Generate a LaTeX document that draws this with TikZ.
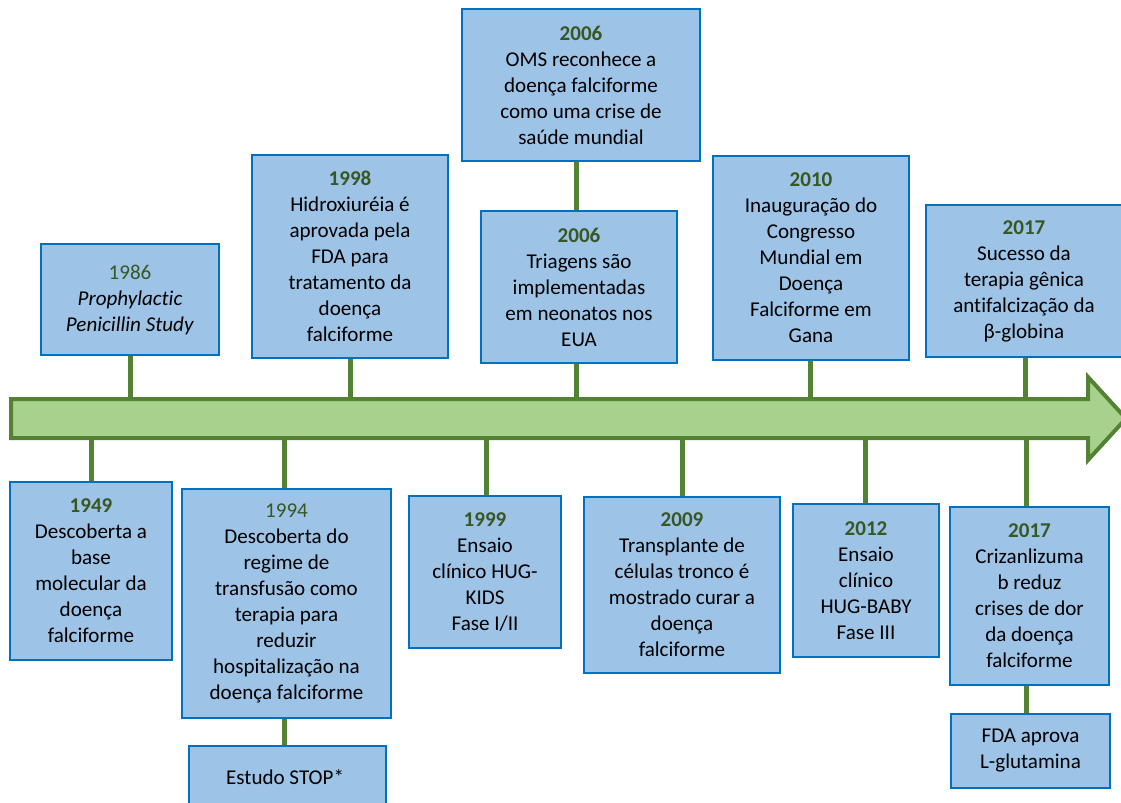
\documentclass[tikz,border=0pt]{standalone}
\usepackage{fontspec}
\setmainfont{Carlito}[Ligatures=NoCommon]
\definecolor{boxblue}{RGB}{157, 195, 230}
\definecolor{edgeblue}{RGB}{0, 112, 192}
\definecolor{axisgreen}{RGB}{169, 209, 142}
\definecolor{darkgreen}{RGB}{84, 130, 53}
\definecolor{yeargreen}{RGB}{56, 87, 35}
\usetikzlibrary{positioning, calc}
\newcommand{\yr}[1]{{\color{yeargreen}\bfseries #1}}
\newcommand{\yrlight}[1]{{\color{yeargreen}#1}}

\begin{document}
\begin{tikzpicture}[
  x=0.75pt, y=-0.75pt,
  evbox/.style={draw=edgeblue, fill=boxblue, line width=1.5pt, align=center, inner sep=2pt,
    font=\fontsize{15.8}{19.5}\selectfont},
  link/.style={draw=darkgreen, line width=3.75pt}
]
  \useasboundingbox (0,0) rectangle (1121,803);
  \clip (0,0) rectangle (1121,803);

  % time axis
  \draw[draw=darkgreen, fill=axisgreen, line width=3pt]
    (11,399) -- (1088,399) -- (1088,377) -- (1126,418.5) -- (1088,460) -- (1088,438) -- (11,438) -- cycle;
  \coordinate (axtop) at (0,399);
  \coordinate (axbot) at (0,438);

  % events above the axis
  \node[evbox, minimum width=133.5pt, minimum height=83.25pt] (n1986) at (130,299.5) {
    \yrlight{1986}\\
    \textit{Prophylactic}\\
    \textit{Penicillin Study}
  };
  \node[evbox, minimum width=147pt, minimum height=152.25pt] (n1998) at (350,256.5) {
    \yr{1998}\\
    Hidroxiuréia é\\
    aprovada pela\\
    FDA para\\
    tratamento da\\
    doença\\
    falciforme
  };
  \node[evbox, minimum width=178.5pt, minimum height=114pt] (n2006a) at (581,85) {
    \yr{2006}\\
    OMS reconhece a\\
    doença falciforme\\
    como uma crise de\\
    saúde mundial
  };
  \node[evbox, minimum width=147pt, minimum height=114pt] (n2006b) at (579,287) {
    \yr{2006}\\
    Triagens são\\
    implementadas\\
    em neonatos nos\\
    EUA
  };
  \node[evbox, minimum width=147pt, minimum height=153pt] (n2010) at (811,258) {
    \yr{2010}\\
    Inauguração do\\
    Congresso\\
    Mundial em\\
    Doença\\
    Falciforme em\\
    Gana
  };
  \node[evbox, minimum width=147pt, minimum height=114pt] (n2017a) at (1024,281) {
    \yr{2017}\\
    Sucesso da\\
    terapia gênica\\
    antifalcização da\\
    β-globina
  };

  % events below the axis
  \node[evbox, minimum width=121.5pt, minimum height=133.5pt] (n1949) at (91,571) {
    \yr{1949}\\
    Descoberta a\\
    base\\
    molecular da\\
    doença\\
    falciforme
  };
  \node[evbox, minimum width=156.75pt, minimum height=171.75pt] (n1994) at (286.5,603.5) {
    \yrlight{1994}\\
    Descoberta do\\
    regime de\\
    transfusão como\\
    terapia para\\
    reduzir\\
    hospitalização na\\
    doença falciforme
  };
  \node[evbox, minimum width=147.75pt, minimum height=46.5pt] (nstop) at (287.5,777) {
    Estudo STOP*
  };
  \node[evbox, minimum width=114pt, minimum height=114pt] (n1999) at (485,572) {
    \yr{1999}\\
    Ensaio\\
    clínico HUG-\\
    KIDS\\
    Fase I/II
  };
  \node[evbox, minimum width=147pt, minimum height=132pt] (n2009) at (682,585) {
    \yr{2009}\\
    Transplante de\\
    células tronco é\\
    mostrado curar a\\
    doença\\
    falciforme
  };
  \node[evbox, minimum width=109.5pt, minimum height=114.75pt] (n2012) at (866,580.5) {
    \yr{2012}\\
    Ensaio\\
    clínico\\
    HUG-BABY\\
    Fase III
  };
  \node[evbox, minimum width=119.25pt, minimum height=133.5pt] (n2017b) at (1029.5,596) {
    \yr{2017}\\
    Crizanlizuma\\
    b reduz\\
    crises de dor\\
    da doença\\
    falciforme
  };
  \node[evbox, minimum width=119.25pt, minimum height=55.5pt] (nfda) at (1030.5,751) {
    FDA aprova\\
    L-glutamina
  };

  % connectors
  \draw[link] (n1986) -- (n1986 |- axtop);
  \draw[link] (n1998) -- (n1998 |- axtop);
  \draw[link] ([xshift=-2.25pt]n2006b.south) -- ([xshift=-2.25pt]n2006b.south |- axtop);
  \draw[link] ([xshift=-2.25pt]n2006b.north) -- ([xshift=-2.25pt]n2006b.north |- n2006a.south);
  \draw[link] ([xshift=-0.75pt]n2010.south) -- ([xshift=-0.75pt]n2010.south |- axtop);
  \draw[link] ([xshift=0.75pt]n2017a.south) -- ([xshift=0.75pt]n2017a.south |- axtop);
  \draw[link] (n1949) -- (n1949 |- axbot);
  \draw[link] ([xshift=-1.8pt]n1994.north) -- ([xshift=-1.8pt]n1994.north |- axbot);
  \draw[link] ([xshift=-1.5pt]n1994.south) -- ([xshift=-1.5pt]n1994.south |- nstop.north);
  \draw[link] ([xshift=0.75pt]n1999.north) -- ([xshift=0.75pt]n1999.north |- axbot);
  \draw[link] (n2009) -- (n2009 |- axbot);
  \draw[link] ([xshift=-0.75pt]n2012.north) -- ([xshift=-0.75pt]n2012.north |- axbot);
  \draw[link] ([xshift=-2pt]n2017b.north) -- ([xshift=-2pt]n2017b.north |- axbot);
  \draw[link] ([xshift=-2pt]n2017b.south) -- ([xshift=-2pt]n2017b.south |- nfda.north);
\end{tikzpicture}
\end{document}
